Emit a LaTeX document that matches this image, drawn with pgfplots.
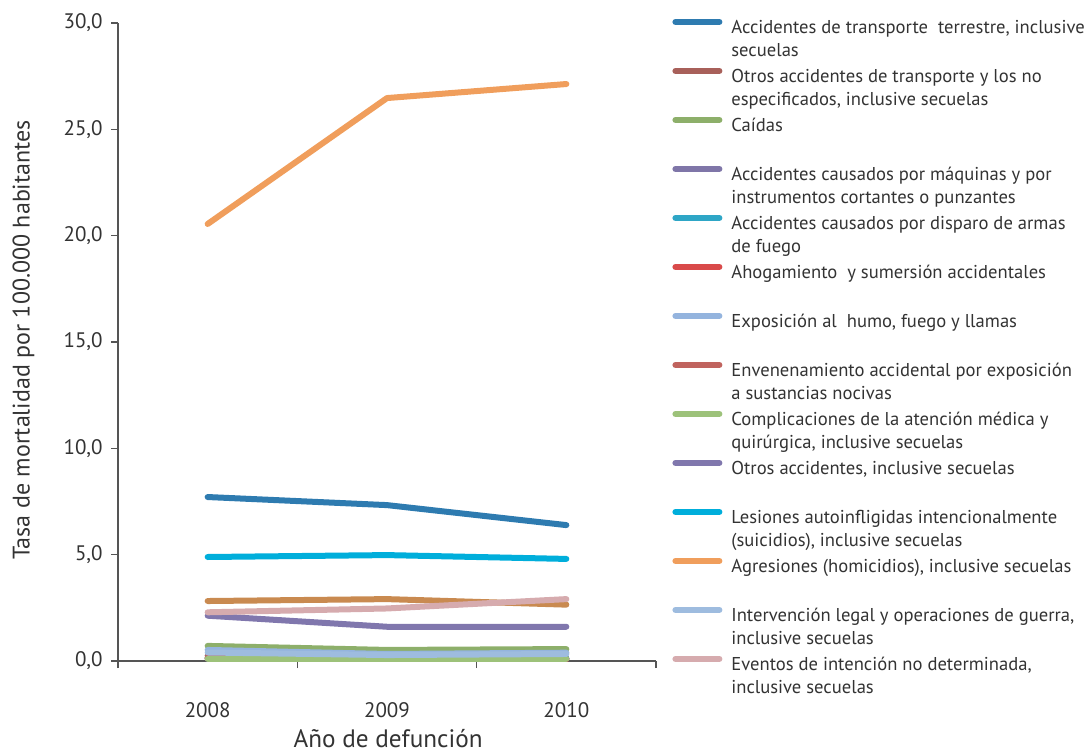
\documentclass[border=0pt]{standalone}
\usepackage{fontspec}
\setmainfont{PT Sans}
\usepackage{pgfplots}
\pgfplotsset{compat=1.18}

\definecolor{cTerr}{HTML}{2E7BB0}
\definecolor{cOtrosT}{HTML}{A8605A}
\definecolor{cCaidas}{HTML}{8DAF6A}
\definecolor{cMaq}{HTML}{7F76A8}
\definecolor{cArmas}{HTML}{2EA6C6}
\definecolor{cAhog}{HTML}{D94A4A}
\definecolor{cHumo}{HTML}{94B4DE}
\definecolor{cEnven}{HTML}{C0635E}
\definecolor{cCompl}{HTML}{9DC27A}
\definecolor{cOtros}{HTML}{8077AD}
\definecolor{cSuic}{HTML}{00AEDB}
\definecolor{cHomi}{HTML}{F09E5C}
\definecolor{cGuerra}{HTML}{9EBCDF}
\definecolor{cIndet}{HTML}{D6ABAE}
\definecolor{cTan}{HTML}{C98A50}
\definecolor{axisgray}{HTML}{555555}
\definecolor{txt}{HTML}{333333}

\newcommand{\entry}[1]{\parbox[t]{185pt}{\baselineskip=11.3pt #1}}

\begin{document}
\begin{tikzpicture}
\useasboundingbox (-59pt,-46pt) rectangle (486pt,330.5pt);
\begin{axis}[
    at={(0pt,0pt)}, anchor=south west,
    scale only axis, width=269pt, height=319pt,
    xmin=2007.5, xmax=2010.5, ymin=0, ymax=30,
    axis x line*=bottom, axis y line*=left,
    axis line style={axisgray, line width=0.75pt},
    tick style={axisgray, line width=0.75pt},
    tick align=outside, major tick length=3.5pt,
    xtick={2007.5,2008.5,2009.5,2010.5},
    x tick label as interval,
    xticklabels={2008,2009,2010},
    ytick={0,5,10,15,20,25,30},
    /pgf/number format/fixed,
    /pgf/number format/fixed zerofill,
    /pgf/number format/precision=1,
    /pgf/number format/use comma,
    /pgf/number format/assume math mode=true,
    ticklabel style={font=\fontsize{10.5}{12}\selectfont, text=txt},
    yticklabel style={anchor=east, inner sep=0pt, xshift=-4pt},
    xticklabel style={anchor=center, yshift=-21pt},
    xlabel={Año de defunción},
    ylabel={Tasa de mortalidad por 100.000 habitantes},
    label style={text=txt},
    xlabel style={font=\fontsize{12.6}{14}\selectfont, at={(axis description cs:0.502,-0.121)}, anchor=center},
    ylabel style={font=\fontsize{12}{14}\selectfont, at={(axis description cs:-0.1757,0.503)}, anchor=center},
    no markers,
    every axis plot/.append style={line width=3pt, line cap=round, line join=round},
    legend image code/.code={\path[draw=none, fill=none] (0pt,3pt) rectangle (25pt,6pt); \draw[#1, overlay, line cap=round] (1.5pt,11pt) -- (23.5pt,11pt);},
    legend cell align=left,
    legend style={at={(1,1)}, anchor=north west, xshift=8pt, yshift=2pt, draw=none, fill=none,
        inner sep=0pt, row sep=0pt, column sep=0pt,
        font=\fontsize{9.3}{11.3}\selectfont, text=txt,
        nodes={inner sep=0pt, outer sep=0pt, text height=7pt, text depth=17.5pt},
        /tikz/every odd column/.style={column sep=4.5pt}},
]
\addplot[cTan, forget plot] coordinates {(2008,2.82) (2009,2.91) (2010,2.65)};
\addplot[cTerr] coordinates {(2008,7.71) (2009,7.33) (2010,6.39)};
\addlegendentry{\entry{Accidentes de transporte\ \ terrestre, inclusive\\secuelas}}
\addplot[cOtrosT] coordinates {(2008,0.25) (2009,0.04) (2010,0.10)};
\addlegendentry{\entry{Otros accidentes de transporte y los no\\especificados, inclusive secuelas}}
\addplot[cCaidas] coordinates {(2008,0.71) (2009,0.52) (2010,0.56)};
\addlegendentry{\entry{Caídas}}
\addplot[cMaq] coordinates {(2008,0.10) (2009,0.09) (2010,0.10)};
\addlegendentry{\entry{Accidentes causados por máquinas y por\\instrumentos cortantes o punzantes}}
\addplot[cArmas] coordinates {(2008,0.15) (2009,0.12) (2010,0.14)};
\addlegendentry{\entry{Accidentes causados por disparo de armas\\de fuego}}
\addplot[cAhog] coordinates {(2008,0.12) (2009,0.08) (2010,0.09)};
\addlegendentry{\entry{Ahogamiento\ \ y sumersión accidentales}}
\addplot[cHumo] coordinates {(2008,0.52) (2009,0.33) (2010,0.39)};
\addlegendentry{\entry{Exposición al\ \ humo, fuego y llamas}}
\addplot[cEnven] coordinates {(2008,0.16) (2009,0.10) (2010,0.10)};
\addlegendentry{\entry{Envenenamiento accidental por exposición\\a sustancias nocivas}}
\addplot[cCompl] coordinates {(2008,0.10) (2009,0.09) (2010,0.10)};
\addlegendentry{\entry{Complicaciones de la atención médica y\\quirúrgica, inclusive secuelas}}
\addplot[cOtros] coordinates {(2008,2.13) (2009,1.61) (2010,1.61)};
\addlegendentry{\entry{Otros accidentes, inclusive secuelas}}
\addplot[cSuic] coordinates {(2008,4.89) (2009,4.98) (2010,4.80)};
\addlegendentry{\entry{Lesiones autoinfligidas intencionalmente\\(suicidios), inclusive secuelas}}
\addplot[cHomi] coordinates {(2008,20.55) (2009,26.47) (2010,27.13)};
\addlegendentry{\entry{Agresiones (homicidios), inclusive secuelas}}
\addplot[cGuerra] coordinates {(2008,0.40) (2009,0.28) (2010,0.33)};
\addlegendentry{\entry{Intervención legal y operaciones de guerra,\\inclusive secuelas}}
\addplot[cIndet] coordinates {(2008,2.29) (2009,2.47) (2010,2.91)};
\addlegendentry{\entry{Eventos de intención no determinada,\\inclusive secuelas}}
\end{axis}
\end{tikzpicture}
\end{document}
